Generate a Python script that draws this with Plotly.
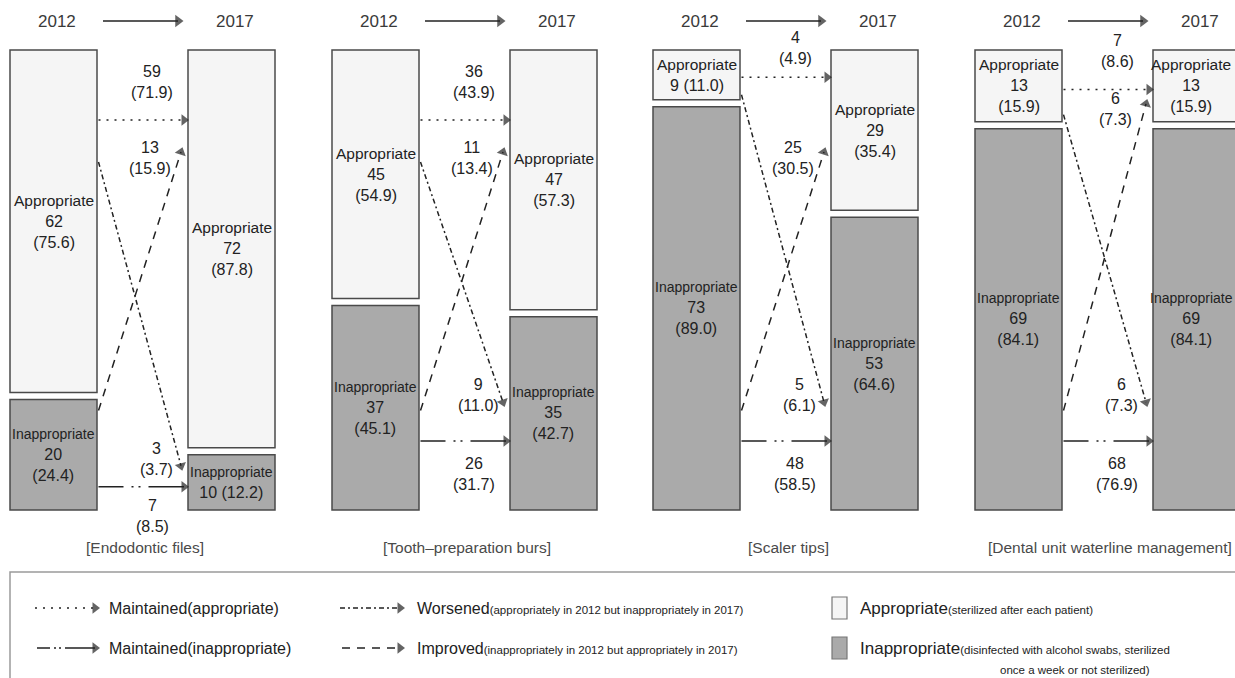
import plotly.graph_objects as go

# ---------------- data ----------------
panels = ["[Endodontic files]", "[Tooth–preparation burs]", "[Scaler tips]",
          "[Dental unit waterline management]"]
years = ["2012", "2017"]
app_2012 = [62, 45, 9, 13]
app_2012_pct = [75.6, 54.9, 11.0, 15.9]
inapp_2012 = [20, 37, 73, 69]
inapp_2012_pct = [24.4, 45.1, 89.0, 84.1]
app_2017 = [72, 47, 29, 13]
app_2017_pct = [87.8, 57.3, 35.4, 15.9]
inapp_2017 = [10, 35, 53, 69]
inapp_2017_pct = [12.2, 42.7, 64.6, 84.1]
maint_app = [59, 36, 4, 7]
maint_app_pct = [71.9, 43.9, 4.9, 8.6]
improved = [13, 11, 25, 6]
improved_pct = [15.9, 13.4, 30.5, 7.3]
worsened = [3, 9, 5, 6]
worsened_pct = [3.7, 11.0, 6.1, 7.3]
maint_inapp = [7, 26, 48, 68]
maint_inapp_pct = [8.5, 31.7, 58.5, 76.9]
N_TOTAL = 82

# ---------------- layout / style constants ----------------
W, H = 1235, 678
PANEL_X = [10, 332, 653, 975]
BOX_W = 87
COL_DX = 178
GAP = 1.27
TOP = N_TOTAL + GAP
BOX_TOP_PX, BOX_BOT_PX = 50, 510
PX_PER_UNIT = (BOX_BOT_PX - BOX_TOP_PX) / TOP
Y_LO, Y_HI = -12.0, TOP + 6.0          # extra room around the boxes for labels
DOM_LO = (H - (BOX_BOT_PX - Y_LO * PX_PER_UNIT)) / H
DOM_HI = (H - (BOX_TOP_PX - (Y_HI - TOP) * PX_PER_UNIT)) / H
INK = "#222222"
EDGE = "#4a4a4a"
FILL_APP = "#f5f5f5"
FILL_INAPP = "#aaaaaa"
FONT = "Liberation Sans, Arial, sans-serif"

# arrow levels (value-axis units) for the schematic connectors
DOT_LV, INAPP_LV = 70.6, 12.5
IMP_START_LV, IMP_END_LV = 18.0, 64.8
WOR_START_LV, WOR_END_LV = 63.0, 19.5

DASH_MAINT_APP = "2px,6px"
DASH_WORSE = "5px,3px,2px,3px"
DASH_IMPROVE = "8px,7px"
DASH_MAINT_INAPP = "25px,8px,2px,5px,2px,8px,80px"

fig = go.Figure()


def fmt(n, p, sep="<br>"):
    return f"{n}{sep}({p:.1f})"


def arrow(x0, y0, x1, y1, dash, yaxis="y", head=10):
    fig.add_trace(go.Scatter(
        x=[x0, x1], y=[y0, y1], mode="lines+markers", yaxis=yaxis,
        line=dict(color=INK, width=1.5, dash=dash),
        marker=dict(symbol="triangle-up", size=[0, head], angleref="previous",
                    color=INK, line=dict(width=0)),
        hoverinfo="skip", showlegend=False, cliponaxis=False))


def ann(x, y, text, size=16, color=INK, yref="y", xanchor="center"):
    fig.add_annotation(x=x, y=y, xref="x", yref=yref, text=text, showarrow=False,
                       xanchor=xanchor, yanchor="middle",
                       font=dict(size=size, color=color, family=FONT))


# ---------------- boxes (bars on value axis) ----------------
bx, by, bb, bc = [], [], [], []
for i in range(4):
    for j, (a, ia) in enumerate([(app_2012[i], inapp_2012[i]), (app_2017[i], inapp_2017[i])]):
        cx = PANEL_X[i] + j * COL_DX + BOX_W / 2
        bx += [cx, cx]
        by += [ia, a]
        bb += [0, ia + GAP]
        bc += [FILL_INAPP, FILL_APP]
fig.add_trace(go.Bar(x=bx, y=by, base=bb, width=[BOX_W] * len(bx),
                     marker=dict(color=bc, line=dict(color=EDGE, width=1.5)),
                     hoverinfo="skip", showlegend=False))

# box labels
for i in range(4):
    cols = [(app_2012[i], app_2012_pct[i], inapp_2012[i], inapp_2012_pct[i]),
            (app_2017[i], app_2017_pct[i], inapp_2017[i], inapp_2017_pct[i])]
    for j, (a, ap, ia, iap) in enumerate(cols):
        cx = min(PANEL_X[i] + j * COL_DX + BOX_W / 2, W - 44)
        sep_a = " " if a * PX_PER_UNIT < 62 else "<br>"
        sep_i = " " if ia * PX_PER_UNIT < 62 else "<br>"
        ann(cx, ia + GAP + a / 2,
            '<span style="font-size:15.5px">Appropriate</span><br>' + fmt(a, ap, sep_a), size=16)
        ann(cx, ia / 2,
            '<span style="font-size:14px">Inappropriate</span><br>' + fmt(ia, iap, sep_i), size=16)

# ---------------- flow arrows ----------------
for i in range(4):
    x0 = PANEL_X[i] + BOX_W + 1.5
    xt = PANEL_X[i] + COL_DX - 7
    lo12 = inapp_2012[i] + GAP
    lo17 = inapp_2017[i] + GAP
    small12 = DOT_LV < lo12 + 0.5 * (TOP - lo12)
    # maintained appropriate
    dot = lo12 + 0.45 * (TOP - lo12) if small12 else DOT_LV
    arrow(x0, dot, xt + 3, dot, DASH_MAINT_APP)
    ann(PANEL_X[i] + 142, min(dot + 6.9, TOP + 0.3), fmt(maint_app[i], maint_app_pct[i]))
    # worsened
    ws = lo12 + 0.1 * (TOP - lo12) if small12 else WOR_START_LV
    we = min(WOR_END_LV, inapp_2017[i] - 2)
    arrow(x0, ws, xt, we, DASH_WORSE)
    ann(PANEL_X[i] + 146, we + 1.3, fmt(worsened[i], worsened_pct[i]))
    # improved
    ist = min(IMP_START_LV, inapp_2012[i] - 1)
    ie = IMP_END_LV if lo17 + 1 <= IMP_END_LV <= dot - 3 else lo17 + 0.25 * (TOP - lo17)
    arrow(x0, ist, xt, ie, DASH_IMPROVE)
    ann(PANEL_X[i] + 140, ie - 1.0, fmt(improved[i], improved_pct[i]))
    # maintained inappropriate
    mi = min(INAPP_LV, min(inapp_2012[i], inapp_2017[i]) * 0.42)
    arrow(x0, mi, xt + 3, mi, DASH_MAINT_INAPP)
    ann(PANEL_X[i] + 142, max(mi - 6.0, -1.0), fmt(maint_inapp[i], maint_inapp_pct[i]))

# ---------------- headers and captions (pixel axis y2) ----------------
for i in range(4):
    ann(PANEL_X[i] + BOX_W / 2 + 3, 21, years[0], size=17, color="#3a3a3a", yref="y2")
    ann(PANEL_X[i] + COL_DX + BOX_W / 2 + 3, 21, years[1], size=17, color="#3a3a3a", yref="y2")
    arrow(PANEL_X[i] + 93, 21, PANEL_X[i] + 168, 21, "solid", yaxis="y2", head=11)
    ann(PANEL_X[i] + 135, 547, panels[i], size=15.5, color="#4a4a4a", yref="y2")

# ---------------- legend box ----------------
fig.add_shape(type="rect", xref="x", yref="y2", x0=10, x1=1260, y0=572, y1=700,
              line=dict(color="#9a9a9a", width=1.5), fillcolor="rgba(0,0,0,0)")
arrow(35, 608, 95, 608, DASH_MAINT_APP, yaxis="y2")
arrow(340, 608, 400, 608, DASH_WORSE, yaxis="y2")
arrow(37, 648, 95, 648, "13px,4px,2px,3px,2px,4px,60px", yaxis="y2")
arrow(342, 648, 400, 648, DASH_IMPROVE, yaxis="y2")
SMALL = '<span style="font-size:11.5px">'
ann(107, 608, "Maintained(appropriate)", size=16, yref="y2", xanchor="left")
ann(107, 648, "Maintained(inappropriate)", size=16, yref="y2", xanchor="left")
ann(415, 608, "Worsened" + SMALL + "(appropriately in 2012 but inappropriately in 2017)</span>",
    size=16, yref="y2", xanchor="left")
ann(415, 648, "Improved" + SMALL + "(inappropriately in 2012 but appropriately in 2017)</span>",
    size=16, yref="y2", xanchor="left")
fig.add_shape(type="rect", xref="x", yref="y2", x0=832, x1=847, y0=597, y1=619,
              line=dict(color="#777777", width=1.2), fillcolor=FILL_APP)
fig.add_shape(type="rect", xref="x", yref="y2", x0=832, x1=847, y0=637, y1=659,
              line=dict(color="#777777", width=1.2), fillcolor=FILL_INAPP)
ann(858, 608, "Appropriate" + SMALL + "(sterilized after each patient)</span>",
    size=17, yref="y2", xanchor="left")
ann(858, 648, "Inappropriate" + SMALL + "(disinfected with alcohol swabs, sterilized</span>",
    size=17, yref="y2", xanchor="left")
ann(998, 670, "once a week or not sterilized)", size=11.5, yref="y2", xanchor="left")

fig.update_layout(
    width=W, height=H, autosize=False,
    margin=dict(l=0, r=0, t=0, b=0),
    paper_bgcolor="white", plot_bgcolor="rgba(0,0,0,0)",
    barmode="overlay", showlegend=False,
    font=dict(family=FONT, color=INK),
    xaxis=dict(range=[0, W], domain=[0, 1], visible=False, fixedrange=True),
    yaxis=dict(range=[Y_LO, Y_HI], domain=[DOM_LO, DOM_HI], visible=False, fixedrange=True),
    yaxis2=dict(range=[H, 0], domain=[0, 1], anchor="x", visible=False, fixedrange=True),
)

fig.write_html("out.html", config={"displayModeBar": False},
               post_script="document.body.style.margin='0';document.body.style.overflow='hidden';")
